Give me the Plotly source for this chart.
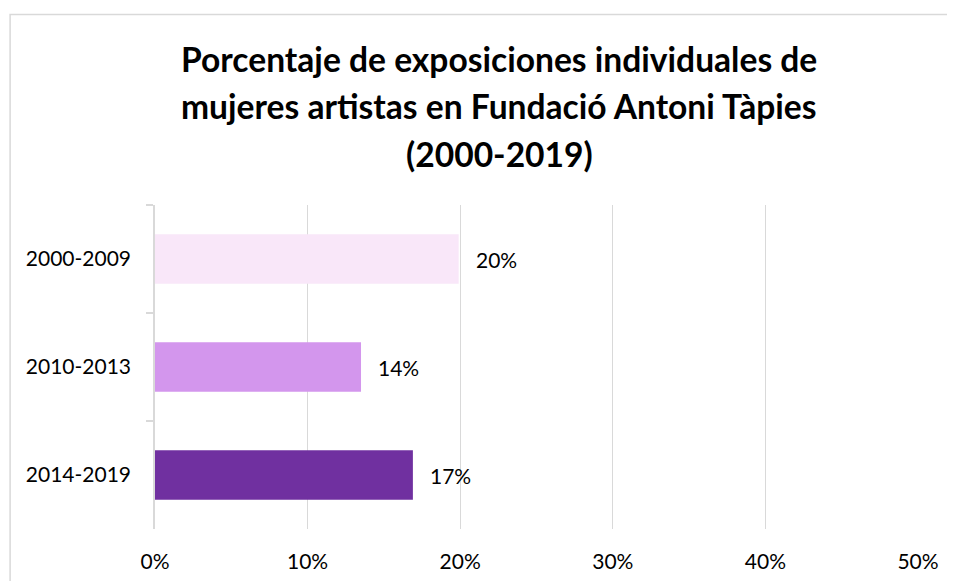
import plotly.graph_objects as go

# Data
categories = ["2000-2009", "2010-2013", "2014-2019"]
values = [0.199, 0.135, 0.169]
bar_colors = ["#F9E7F9", "#D396ED", "#7030A0"]
title_lines = [
    "Porcentaje de exposiciones individuales de",
    "mujeres artistas en Fundació Antoni Tàpies",
    "(2000-2019)",
]
x_ticks = [0, 0.1, 0.2, 0.3, 0.4, 0.5]
x_tick_labels = ["0%", "10%", "20%", "30%", "40%", "50%"]

# page has an 8px body margin; figure is sized to fill the rest of the window
OFF = 8
W, H = 955 - OFF, 581 - OFF
L, R, T, B = 154.5 - OFF, 37, 205 - OFF, 52
pw, ph = W - L - R, H - T - B


def px_x(p):
    return (p - OFF - L) / pw


def px_y(p):
    return (H - B - (p - OFF)) / ph


FONT = "Lato"

fig = go.Figure()
fig.add_trace(go.Bar(
    x=values, y=categories, orientation="h",
    marker=dict(color=bar_colors, line=dict(width=0)),
    width=0.46, hoverinfo="skip",
))

annotations = []
for v, c in zip(values, categories):
    annotations.append(dict(
        x=v, y=c, xref="x", yref="y", text=f"{v:.0%}", showarrow=False,
        xanchor="left", yanchor="middle", xshift=15,
        font=dict(family=FONT, size=21, color="#000000"),
    ))

for line, yp in zip(title_lines, [59, 106, 154]):
    annotations.append(dict(
        x=px_x(499), y=px_y(yp), xref="paper", yref="paper", text=f"<b>{line}</b>",
        showarrow=False, xanchor="center", yanchor="middle",
        font=dict(family=FONT, size=33.6, color="#000000"),
    ))

shapes = [dict(
    type="path", xref="paper", yref="paper",
    path=f"M {px_x(9.5)},{px_y(600)} L {px_x(9.5)},{px_y(14.5)} L {px_x(975)},{px_y(14.5)}",
    line=dict(color="#D9D9D9", width=1.5),
)]

fig.update_layout(
    width=W, height=H,
    margin=dict(l=L, r=R, t=T, b=B, pad=0, autoexpand=False),
    paper_bgcolor="white", plot_bgcolor="white",
    showlegend=False,
    bargap=0.54,
    annotations=annotations,
    shapes=shapes,
    xaxis=dict(
        range=[0, 0.5], tickvals=x_ticks, ticktext=x_tick_labels,
        showgrid=True, gridcolor="#D9D9D9", gridwidth=1,
        zeroline=False, showline=False, ticks="",
        tickfont=dict(family=FONT, size=21, color="#000000"),
        ticklabelstandoff=18, automargin=False,
        fixedrange=True,
    ),
    yaxis=dict(
        categoryorder="array", categoryarray=categories, autorange="reversed",
        showline=True, linecolor="#D9D9D9", linewidth=1.5,
        ticks="outside", ticklen=7, tickcolor="#D9D9D9", tickwidth=1.5,
        tickson="boundaries", showgrid=False,
        tickfont=dict(family=FONT, size=21, color="#000000"),
        ticklabelstandoff=18, automargin=False,
        fixedrange=True,
    ),
    font=dict(family=FONT),
)

fig.write_html("out.html", config={"displayModeBar": False})
